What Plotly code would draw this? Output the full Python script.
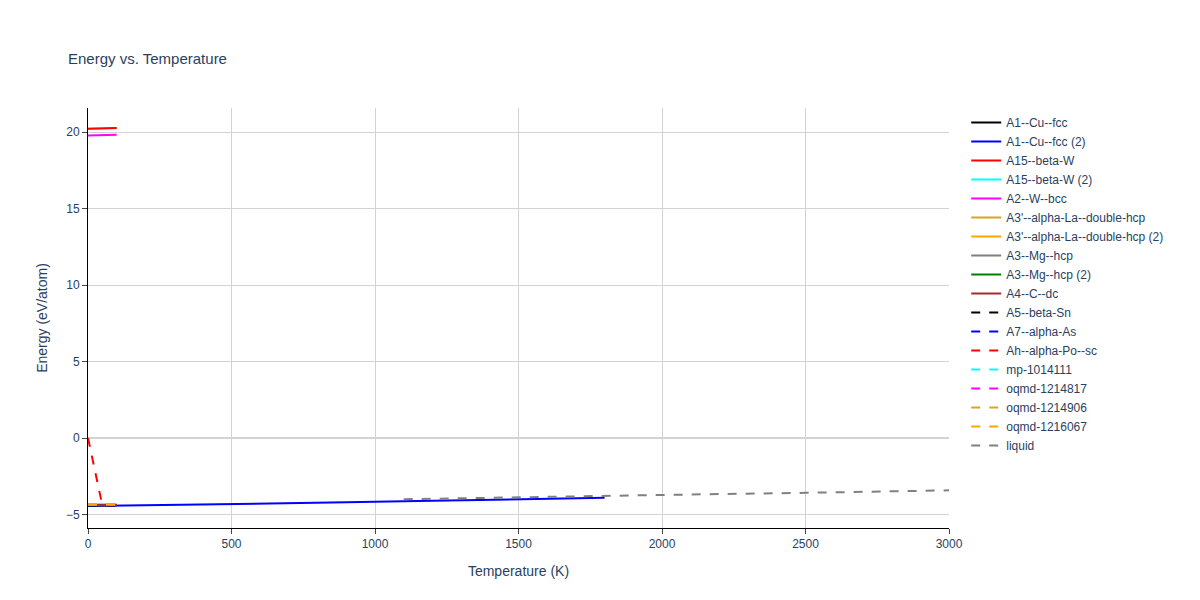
import plotly.graph_objects as go

T_low = [0, 50, 100]
series = [
    ("A1--Cu--fcc", "black", "solid", T_low, [-4.42, -4.42, -4.41]),
    ("A1--Cu--fcc (2)", "blue", "solid", [0, 300, 600, 900, 1200, 1500, 1800], [-4.45, -4.38, -4.3, -4.2, -4.1, -4.0, -3.9]),
    ("A15--beta-W", "red", "solid", T_low, [20.22, 20.23, 20.26]),
    ("A15--beta-W (2)", "cyan", "solid", T_low, [20.22, 20.23, 20.26]),
    ("A2--W--bcc", "magenta", "solid", T_low, [19.78, 19.79, 19.82]),
    ("A3'--alpha-La--double-hcp", "goldenrod", "solid", T_low, [-4.35, -4.35, -4.34]),
    ("A3'--alpha-La--double-hcp (2)", "orange", "solid", T_low, [-4.36, -4.36, -4.35]),
    ("A3--Mg--hcp", "gray", "solid", T_low, [-4.4, -4.4, -4.39]),
    ("A3--Mg--hcp (2)", "green", "solid", T_low, [-4.39, -4.39, -4.38]),
    ("A4--C--dc", "brown", "solid", T_low, [-4.38, -4.38, -4.37]),
    ("A5--beta-Sn", "black", "dash", T_low, [-4.41, -4.41, -4.4]),
    ("A7--alpha-As", "blue", "dash", T_low, [-4.4, -4.4, -4.39]),
    ("Ah--alpha-Po--sc", "red", "dash", [0, 50, 100], [0.0, -4.4, -4.38]),
    ("mp-1014111", "cyan", "dash", T_low, [-4.37, -4.37, -4.36]),
    ("oqmd-1214817", "magenta", "dash", T_low, [-4.36, -4.36, -4.35]),
    ("oqmd-1214906", "goldenrod", "dash", T_low, [-4.35, -4.35, -4.34]),
    ("oqmd-1216067", "orange", "dash", T_low, [-4.34, -4.34, -4.33]),
    ("liquid", "gray", "dash", [1100, 1500, 2000, 2500, 3000], [-4.0, -3.86, -3.72, -3.58, -3.42]),
]

# draw cyan beta-W under red beta-W while keeping legend order
draw_order = [3, 0, 1, 2] + list(range(4, len(series)))

fig = go.Figure()
for i in draw_order:
    name, c, d, x, y = series[i]
    fig.add_trace(go.Scatter(x=x, y=y, mode="lines", name=name, legendrank=i + 1,
                             line=dict(color=c, dash=d, width=2)))

fig.update_layout(
    width=1200, height=600,
    font=dict(family="Liberation Sans, Arial, sans-serif", color="#2a3f5f"),
    title=dict(text="Energy vs. Temperature", x=0.05, y=0.925, font=dict(size=15)),
    plot_bgcolor="white", paper_bgcolor="white",
    margin=dict(l=80, r=259, t=100, b=80),
    xaxis=dict(title="Temperature (K)", range=[0, 3000], showgrid=True, gridcolor="lightgray",
               showline=True, linecolor="black", ticks="outside", zeroline=False, automargin=False),
    yaxis=dict(title="Energy (eV/atom)", range=[-5.88, 21.57], showgrid=True, gridcolor="lightgray",
               showline=True, linecolor="black", ticks="outside", zeroline=True,
               zerolinecolor="lightgray", zerolinewidth=2, automargin=False),
    legend=dict(x=1.02, y=1),
)
fig.write_html("out.html")
